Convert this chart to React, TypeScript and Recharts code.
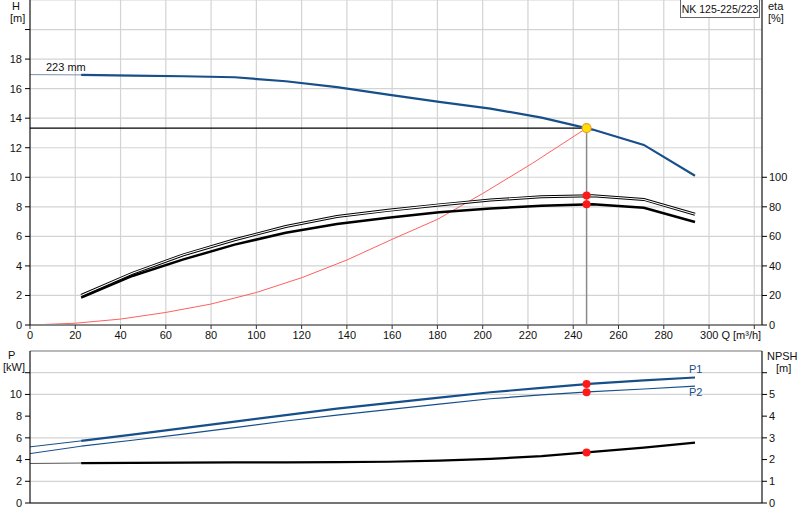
import { ComposedChart, Line, XAxis, YAxis, CartesianGrid, ReferenceLine, ReferenceDot } from "recharts";

// flow points of the drawn curves [m³/h]
const flowQ = [22.6, 45.2, 67.8, 90.4, 113, 135.6, 158.2, 180.8, 203.4, 226, 248.6, 271.2, 293.8];
const headH = [16.93, 16.88, 16.84, 16.77, 16.5, 16.1, 15.6, 15.1, 14.65, 14.04, 13.23, 12.19, 10.1];
const etaUpper = [20, 35, 47.5, 57.7, 66.7, 73.4, 77.6, 81.3, 84.6, 86.8, 87.5, 85, 75];
const etaLower = [18.5, 33.2, 44.4, 54.4, 62.5, 68.3, 72.6, 76.4, 78.8, 80.8, 81.7, 79.4, 69.7];
const powerP1 = [5.72, 6.3, 6.9, 7.5, 8.1, 8.7, 9.2, 9.7, 10.2, 10.6, 11.0, 11.3, 11.56];
const powerP2 = [5.23, 5.78, 6.35, 6.95, 7.55, 8.1, 8.6, 9.1, 9.6, 9.95, 10.25, 10.5, 10.76];
const npshR = [1.84, 1.85, 1.86, 1.87, 1.87, 1.88, 1.9, 1.95, 2.03, 2.16, 2.35, 2.55, 2.78];

// extension from Q = 0 to first point
const leadQ = [0, 22.6];
const headLead = [16.95, 16.93];
const p1Lead = [5.17, 5.72];
const p2Lead = [4.55, 5.23];
const npshLead = [1.82, 1.84];

// system curve
const systemQ = [0, 20, 40, 60, 80, 100, 120, 140, 160, 180, 200, 222, 245.9];
const systemH = [0, 0.12, 0.4, 0.85, 1.42, 2.2, 3.2, 4.4, 5.8, 7.15, 8.9, 10.95, 13.33];

// duty point
const dutyQ = 245.9;
const dutyH = 13.33;
const dutyEta = [87.6, 81.7];
const dutyP = [10.95, 10.21];
const dutyNpsh = 2.33;

const qTicks = [0, 20, 40, 60, 80, 100, 120, 140, 160, 180, 200, 220, 240, 260, 280, 300, 320];
const hTicks = [0, 2, 4, 6, 8, 10, 12, 14, 16, 18, 20];
const etaTicks = [0, 20, 40, 60, 80, 100];
const pTicks = [0, 2, 4, 6, 8, 10, 12];
const npshTicks = [0, 1, 2, 3, 4, 5, 6];

const zip = (xs: number[], ys: number[]) => xs.map((q, i) => ({ q, v: ys[i] }));

const blue = "#174f8a";
const grid = "#d3d3d3";
const font = "'Liberation Sans', Arial, sans-serif";
const tickStyle = { fontSize: 11, fill: "#111", fontFamily: font };

function QTick({ x, y, payload }: any) {
  const v = payload.value;
  if (v === 320) return null;
  if (v === 300)
    return <text x={x - 9} y={y} dy="0.71em" textAnchor="start" {...tickStyle}>300 Q [m³/h]</text>;
  return <text x={x} y={y} dy="0.71em" textAnchor="middle" {...tickStyle}>{v}</text>;
}

const hideAbove = (limit: number) => (v: number) => (v > limit ? "" : String(v));

export default function App() {
  const label = (left: number, top: number, text: string, color = "#111") => (
    <div style={{ position: "absolute", left, top, fontSize: 11, color, fontFamily: font, lineHeight: "12px", whiteSpace: "nowrap" }}>{text}</div>
  );
  return (
    <div style={{ position: "absolute", left: 0, top: 0, width: 800, height: 520, background: "#fff", fontFamily: font }}>
      <div style={{ position: "absolute", left: 0, top: 0 }}>
        <ComposedChart width={800} height={345} margin={{ top: 0, right: 0, bottom: 0, left: 0 }}>
          <CartesianGrid yAxisId="h" stroke={grid} strokeWidth={1.2} />
          <XAxis dataKey="q" type="number" domain={[0, 323.4]} ticks={qTicks} height={20} allowDataOverflow
            axisLine={{ stroke: "#8a8a8a", strokeWidth: 2 }} tickLine={{ stroke: "#333" }} tickSize={4} tick={<QTick />} />
          <YAxis yAxisId="h" domain={[0, 22]} ticks={hTicks} width={30} tickSize={5} tickMargin={3}
            axisLine={{ stroke: "#000" }} tickLine={{ stroke: "#000" }} tick={tickStyle} tickFormatter={hideAbove(18)} />
          <YAxis yAxisId="eta" orientation="right" domain={[0, 220]} ticks={etaTicks} width={38} tickSize={5} tickMargin={2}
            axisLine={{ stroke: "#000" }} tickLine={{ stroke: "#000" }} tick={tickStyle} />
          <ReferenceLine yAxisId="h" segment={[{ x: 0, y: dutyH }, { x: dutyQ, y: dutyH }]} stroke="#000" strokeWidth={1.2} />
          <ReferenceLine yAxisId="h" segment={[{ x: dutyQ, y: 0 }, { x: dutyQ, y: dutyH }]} stroke="#8a8a8a" strokeWidth={1.5} />
          <Line yAxisId="h" data={zip(systemQ, systemH)} dataKey="v" stroke="#ff6060" strokeWidth={1} dot={false} isAnimationActive={false} />
          <Line yAxisId="eta" data={zip(flowQ, etaUpper)} dataKey="v" stroke="#000" strokeWidth={3} dot={false} isAnimationActive={false} />
          <Line yAxisId="eta" data={zip(flowQ, etaUpper)} dataKey="v" stroke="#fff" strokeWidth={1.1} dot={false} isAnimationActive={false} />
          <Line yAxisId="eta" data={zip(flowQ, etaLower)} dataKey="v" stroke="#000" strokeWidth={2.5} dot={false} isAnimationActive={false} />
          <Line yAxisId="h" data={zip(leadQ, headLead)} dataKey="v" stroke="#7b8fb0" strokeWidth={1} dot={false} isAnimationActive={false} />
          <Line yAxisId="h" data={zip(flowQ, headH)} dataKey="v" stroke={blue} strokeWidth={2.2} dot={false} isAnimationActive={false} />
          <ReferenceDot yAxisId="eta" x={dutyQ} y={dutyEta[0]} r={4} fill="#ff1a1a" stroke="none" />
          <ReferenceDot yAxisId="eta" x={dutyQ} y={dutyEta[1]} r={4} fill="#ff1a1a" stroke="none" />
          <ReferenceDot yAxisId="h" x={dutyQ} y={dutyH} r={4.5} fill="#ffe000" stroke="#f09a30" strokeWidth={1.2} />
        </ComposedChart>
      </div>
      <div style={{ position: "absolute", left: 0, top: 340 }}>
        <ComposedChart width={800} height={180} margin={{ top: 11, right: 0, bottom: 0, left: 0 }}>
          <CartesianGrid yAxisId="p" stroke={grid} strokeWidth={1.2} />
          <XAxis dataKey="q" type="number" domain={[0, 323.4]} ticks={qTicks} height={17} allowDataOverflow
            axisLine={{ stroke: "#000" }} tick={false} tickLine={false} />
          <YAxis yAxisId="p" domain={[0, 14]} ticks={pTicks} width={30} tickSize={5} tickMargin={3}
            axisLine={{ stroke: "#000" }} tickLine={{ stroke: "#000" }} tick={tickStyle} tickFormatter={hideAbove(10)} />
          <YAxis yAxisId="n" orientation="right" domain={[0, 7]} ticks={npshTicks} width={38} tickSize={5} tickMargin={2}
            axisLine={{ stroke: "#000" }} tickLine={{ stroke: "#000" }} tick={tickStyle} tickFormatter={hideAbove(5)} />
          <ReferenceLine yAxisId="p" y={14} stroke="#8a8a8a" strokeWidth={1.2} />
          <Line yAxisId="p" data={zip(leadQ, p1Lead)} dataKey="v" stroke={blue} strokeWidth={1} dot={false} isAnimationActive={false} />
          <Line yAxisId="p" data={zip(leadQ, p2Lead)} dataKey="v" stroke={blue} strokeWidth={1} dot={false} isAnimationActive={false} />
          <Line yAxisId="n" data={zip(leadQ, npshLead)} dataKey="v" stroke="#555" strokeWidth={1} dot={false} isAnimationActive={false} />
          <Line yAxisId="p" data={zip(flowQ, powerP1)} dataKey="v" stroke={blue} strokeWidth={2.2} dot={false} isAnimationActive={false} />
          <Line yAxisId="p" data={zip(flowQ, powerP2)} dataKey="v" stroke={blue} strokeWidth={1.2} dot={false} isAnimationActive={false} />
          <Line yAxisId="n" data={zip(flowQ, npshR)} dataKey="v" stroke="#000" strokeWidth={2.2} dot={false} isAnimationActive={false} />
          <ReferenceDot yAxisId="p" x={dutyQ} y={dutyP[0]} r={4} fill="#ff1a1a" stroke="none" />
          <ReferenceDot yAxisId="p" x={dutyQ} y={dutyP[1]} r={4} fill="#ff1a1a" stroke="none" />
          <ReferenceDot yAxisId="n" x={dutyQ} y={dutyNpsh} r={4} fill="#ff1a1a" stroke="none" />
        </ComposedChart>
      </div>
      {label(12, 0, "H")}
      {label(10, 12, "[m]")}
      {label(768, 0, "eta")}
      {label(768, 12, "[%]")}
      {label(46, 61, "223 mm")}
      {label(8, 349, "P")}
      {label(3, 361, "[kW]")}
      {label(767, 350, "NPSH")}
      {label(776, 362, "[m]")}
      {label(689, 363, "P1", blue)}
      {label(689, 386, "P2", blue)}
      <div style={{ position: "absolute", left: 680, top: -1, width: 80, height: 19, border: "1px solid #666", background: "#fff",
        boxSizing: "border-box", whiteSpace: "nowrap", fontSize: 10.5, lineHeight: "18px", textAlign: "center", fontFamily: font, color: "#111" }}>NK 125-225/223</div>
    </div>
  );
}
